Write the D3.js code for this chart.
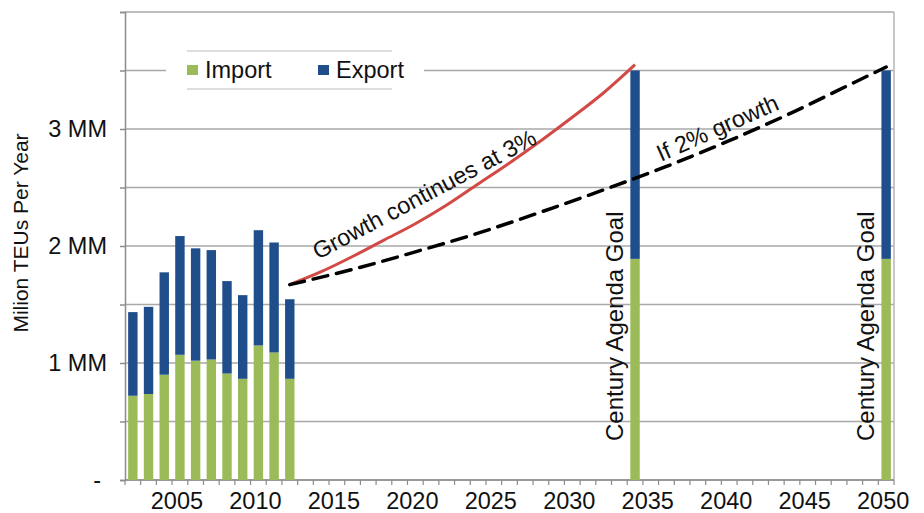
<!DOCTYPE html>
<html>
<head>
<meta charset="utf-8">
<script src="https://cdn.jsdelivr.net/npm/d3@7/dist/d3.min.js"></script>
<style>
  html, body { margin: 0; padding: 0; background: #fff; }
  svg { display: block; font-family: "Liberation Sans", Arial, sans-serif; }
</style>
</head>
<body>
<svg id="chart" width="924" height="513"></svg>
<script>
// ---- Data (millions of TEUs) ----
const histYears   = [2002, 2003, 2004, 2005, 2006, 2007, 2008, 2009, 2010, 2011, 2012];
const histImport  = [0.72, 0.735, 0.90, 1.07, 1.02, 1.03, 0.91, 0.865, 1.15, 1.09, 0.865];
const histExport  = [0.715, 0.745, 0.875, 1.015, 0.96, 0.935, 0.79, 0.715, 0.985, 0.94, 0.68];

const goalYears   = [2034, 2050];
const goalImport  = [1.89, 1.89];
const goalExport  = [1.61, 1.61];
const goalLabel   = "Century Agenda Goal";

const growth3Years  = [2012, 2014, 2016, 2018, 2020, 2022, 2024, 2026, 2028, 2030, 2032, 2034];
const growth3Values = [1.67, 1.78, 1.91, 2.05, 2.19, 2.35, 2.53, 2.71, 2.90, 3.10, 3.31, 3.55];

const growth2Years  = [2012, 2016, 2020, 2024, 2028, 2032, 2036, 2040, 2044, 2048, 2050];
const growth2Values = [1.67, 1.80, 1.95, 2.11, 2.29, 2.48, 2.68, 2.90, 3.14, 3.40, 3.53];

const xLabelYears = [2005, 2010, 2015, 2020, 2025, 2030, 2035, 2040, 2045, 2050];
const yTicks      = [0, 0.5, 1, 1.5, 2, 2.5, 3, 3.5, 4];
const yTickLabels = ["-", "", "1 MM", "", "2 MM", "", "3 MM", "", ""];
const seriesNames = ["Import", "Export"];
const yTitle = "Milion TEUs Per Year";
const label3 = "Growth continues at 3%";
const label2 = "If 2% growth";

// ---- Layout ----
const colors = { Import: "#9bbb59", Export: "#1f4e8b" };
const plotL = 125, plotR = 894, plotT = 12, plotB = 480;
const FS = 23.5;

const allYears = d3.range(2002, 2051);
const x = d3.scaleBand().domain(allYears).range([plotL, plotR]).paddingInner(0.4).paddingOuter(0.2);
const y = d3.scaleLinear().domain([0, 4]).range([plotB, plotT]);
const cx = yr => x(yr) + x.bandwidth() / 2;

const svg = d3.select("#chart");

// gridlines
svg.append("g").selectAll("line").data(yTicks).join("line")
  .attr("x1", plotL).attr("x2", plotR)
  .attr("y1", d => y(d)).attr("y2", d => y(d))
  .attr("stroke", "#a9a9a9").attr("stroke-width", 1.5);

// right border
svg.append("line").attr("x1", plotR).attr("x2", plotR).attr("y1", plotT).attr("y2", plotB)
  .attr("stroke", "#b5b5b5").attr("stroke-width", 1.5);

// y axis
const yAxis = d3.axisLeft(y).tickValues(yTicks).tickSize(5).tickPadding(13)
  .tickFormat((d, i) => yTickLabels[i]);
const gy = svg.append("g").attr("transform", `translate(${plotL},0)`).call(yAxis);
gy.select(".domain").attr("stroke", "#8c8c8c").attr("stroke-width", 1.5);
gy.selectAll(".tick line").attr("stroke", "#8c8c8c").attr("stroke-width", 1.5);
gy.selectAll(".tick text").attr("font-size", FS).attr("fill", "#111")
  .attr("font-family", "Liberation Sans, Arial, sans-serif")
  .attr("dx", (d, i) => i === 0 ? -6 : 0);

// x axis
const step = x.step();
const boundaries = d3.range(allYears.length + 1).map(i => plotL + i * step);
svg.append("line").attr("x1", plotL).attr("x2", plotR).attr("y1", plotB).attr("y2", plotB)
  .attr("stroke", "#8c8c8c").attr("stroke-width", 1.5);
svg.append("g").selectAll("line").data(boundaries).join("line")
  .attr("x1", d => d).attr("x2", d => d).attr("y1", plotB).attr("y2", plotB + 5)
  .attr("stroke", "#8c8c8c").attr("stroke-width", 1.2);
const xAxis = d3.axisBottom(x).tickValues(xLabelYears).tickSize(0).tickPadding(12);
const gx = svg.append("g").attr("transform", `translate(0,${plotB})`).call(xAxis);
gx.select(".domain").remove();
gx.selectAll(".tick text").attr("font-size", FS).attr("fill", "#111")
  .attr("font-family", "Liberation Sans, Arial, sans-serif").attr("dx", -3);

// stacked bars
function stackBars(years, imp, exp) {
  const rows = years.map((yr, i) => ({ year: yr, Import: imp[i], Export: exp[i] }));
  const stacked = d3.stack().keys(seriesNames)(rows);
  svg.append("g").selectAll("g").data(stacked).join("g")
    .attr("fill", d => colors[d.key])
    .selectAll("rect").data(d => d).join("rect")
    .attr("x", d => x(d.data.year)).attr("width", x.bandwidth())
    .attr("y", d => y(d[1])).attr("height", d => y(d[0]) - y(d[1]));
}
stackBars(histYears, histImport, histExport);
stackBars(goalYears, goalImport, goalExport);

// growth lines
const line = d3.line().curve(d3.curveMonotoneX);
svg.append("path")
  .attr("d", line(growth3Years.map((yr, i) => [cx(yr), y(growth3Values[i])])))
  .attr("fill", "none").attr("stroke", "#d24a45").attr("stroke-width", 3);
svg.append("path")
  .attr("d", line(growth2Years.map((yr, i) => [cx(yr), y(growth2Values[i])])))
  .attr("fill", "none").attr("stroke", "#000").attr("stroke-width", 3.5)
  .attr("stroke-dasharray", "15,9").attr("stroke-linecap", "round");

// annotations
svg.append("text").text(label3)
  .attr("transform", "translate(318,260) rotate(-28)")
  .attr("font-size", FS).attr("fill", "#111");
svg.append("text").text(label2)
  .attr("transform", "translate(661,162) rotate(-24)")
  .attr("font-size", FS).attr("fill", "#111");
goalYears.forEach(yr => {
  svg.append("text").text(goalLabel)
    .attr("transform", `translate(${x(yr) - 7},441) rotate(-90)`)
    .attr("font-size", 24).attr("fill", "#111");
});

// y title
svg.append("text").text(yTitle)
  .attr("transform", "translate(28,233) rotate(-90)")
  .attr("text-anchor", "middle").attr("font-size", 21).attr("fill", "#111");

// legend
const lg = svg.append("g");
lg.append("rect").attr("x", 166).attr("y", 51).attr("width", 258).attr("height", 38).attr("fill", "#fff");
[51, 89].forEach(yy => lg.append("line").attr("x1", 187).attr("x2", 392)
  .attr("y1", yy).attr("y2", yy).attr("stroke", "#bdbdbd").attr("stroke-width", 1.2));
const legendX = [187, 318];
seriesNames.forEach((name, i) => {
  lg.append("rect").attr("x", legendX[i]).attr("y", 65).attr("width", 11).attr("height", 10)
    .attr("fill", colors[name]);
  lg.append("text").text(name).attr("x", legendX[i] + 18).attr("y", 77.5)
    .attr("font-size", FS).attr("fill", "#111");
});
</script>
</body>
</html>
